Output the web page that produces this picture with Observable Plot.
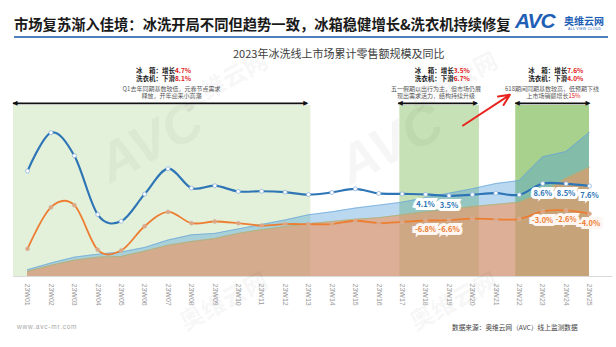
<!DOCTYPE html>
<html>
<head>
<meta charset="utf-8">
<script src="https://cdn.jsdelivr.net/npm/d3@7"></script>
<script src="https://cdn.jsdelivr.net/npm/@observablehq/plot@0.6"></script>
<style>
  html, body { margin: 0; padding: 0; background: #fff; }
  #page { position: relative; width: 616px; height: 347px; overflow: hidden; background: #fff;
          font-family: "Noto Sans CJK SC", "Noto Sans", sans-serif; }
  .abs { position: absolute; white-space: nowrap; }
  #charts svg { position: absolute; left: 0; top: 0; }
  .wm { position: absolute; color: rgba(0,0,0,0.035); font-weight: 900; transform: rotate(-28deg); white-space: nowrap; pointer-events: none; }
</style>
</head>
<body>
<div id="page">
  <div class="abs" style="left:14px; top:13px; font-size:14.3px; font-weight:600; color:#1a1a1a;">市场复苏渐入佳境：冰洗开局不同但趋势一致，冰箱稳健增长&amp;洗衣机持续修复</div>
  <div class="abs" style="left:515px; top:9px; font-family:'Liberation Sans',sans-serif; font-size:21px; font-weight:900; font-style:italic; color:#1f5fb5; letter-spacing:-1px;">AVC</div>
  <div class="abs" style="left:564px; top:13px; font-size:10px; font-weight:700; color:#1f5fb5;">奥维云网</div>
  <div class="abs" style="left:568px; top:27px; font-family:'Liberation Sans',sans-serif; font-size:3.5px; color:#1f5fb5; letter-spacing:0.3px;">ALL VIEW CLOUD</div>
  <div class="abs" style="left:14px; top:36px; width:594px; height:2px; background:#4f7fbf;"></div>
  <div class="abs" style="left:233px; top:45px; font-size:11px; color:#404040;">2023年冰洗线上市场累计零售额规模及同比</div>
  <div id="charts"></div>
  <div class="abs" style="left:17px; top:323px; font-family:'Liberation Sans',sans-serif; font-size:6.5px; color:#a6a6a6; letter-spacing:0.8px;">www.avc-mr.com</div>
  <div class="abs" style="left:452px; top:322px; font-size:6.7px; color:#404040;">数据来源：奥维云网（AVC）线上监测数据</div>
  <div class="wm" style="left:95px; top:110px; font-family:'Liberation Sans'; font-size:54px; font-style:italic;">AVC</div>
  <div class="wm" style="left:175px; top:62px; font-size:24px;">奥维云网</div>
  <div class="wm" style="left:335px; top:112px; font-family:'Liberation Sans'; font-size:54px; font-style:italic;">AVC</div>
  <div class="wm" style="left:405px; top:62px; font-size:24px;">奥维云网</div>
  <div class="wm" style="left:175px; top:282px; font-size:24px;">奥维云网</div>
  <div class="wm" style="left:405px; top:282px; font-size:24px;">奥维云网</div>
</div>
<script>
// ---------- data ----------
const weeks = ["23W01","23W02","23W03","23W04","23W05","23W06","23W07","23W08","23W09","23W10","23W11","23W12","23W13",
               "23W14","23W15","23W16","23W17","23W18","23W19","23W20","23W21","23W22","23W23","23W24","23W25"];
// YoY growth (%) of cumulative online retail sales
const fridgeYoY = [13.8, 29.8, 20.2, -4.3, -7.1, 4.2, 14.8, 6.7, 7.7, 5.3, 5.4, 5.0, 4.0,
                   4.9, 6.4, 4.5, 4.3, 4.1, 3.5, 4.0, 4.6, 3.9, 8.6, 8.5, 7.6];
const washerYoY = [-18.6, -1.3, -0.4, -19.0, -19.3, -9.2, -3.2, -7.9, -7.2, -7.9, -8.9, -8.3, -8.3,
                   -8.3, -6.9, -7.9, -7.4, -6.8, -6.6, -6.0, -6.3, -6.2, -3.0, -2.6, -4.0];
// cumulative retail sales scale (relative units)
const fridgeCum = [9, 18, 26, 30, 33, 39, 49, 56, 58, 64, 70, 76, 83,
                   87, 92, 96, 100, 106, 112, 118, 125, 129, 161, 168, 194];
const washerCum = [7, 15, 22, 26, 27, 34, 42, 47, 51, 58, 63, 67, 71,
                   74, 77, 79, 83, 87, 90, 94, 97, 100, 113, 132, 147];
// labelled weeks (index, 1-based)
const labelWeeks = [18, 19, 23, 24, 25];
// highlighted periods (week index units)
const periodStart = [0.4, 16.9, 21.85];
const periodEnd   = [13.1, 20.3, 25.0];
const arrowStart  = [0.4, 16.85, 21.85];
const arrowEnd    = [12.95, 20.2, 25.0];
const arrowLevel  = 42; // % level of the period arrows
// annotations
const annoAt        = [7.3, 19.2, 24.05];
const fridgeChange  = ["4.7%", "3.5%", "7.6%"];
const washerChange  = ["8.1%", "6.7%", "4.0%"];
const noteAt        = [7.15, 18.45, 23.4];
const noteLine1     = ["Q1去年同期基数较低，元春节点需求", "五一假期以出行为主，但市场仍展", "618期间同期基数较高，低预期下线"];
const noteLine2     = ["释放，开年迎来小高潮", "现出需求活力，结构持续升级", ""];
const note3Line2    = "上市场销额增长";
const note3Red      = "15%";
const note3At       = 24.1;
const redArrow      = [{x1: 19.6, y1: 32.8, x2: 21.6, y2: 45.6}];

// ---------- build ----------
const table = weeks.map((w, i) => ({i: i + 1, w, fy: fridgeYoY[i], wy: washerYoY[i], fc: fridgeCum[i], wc: washerCum[i]}));
const labelRows = table.filter(d => labelWeeks.includes(d.i));
const periods = periodStart.map((s, k) => ({s, e: periodEnd[k], k}));
const spans = arrowStart.map((s, k) => ({s, e: arrowEnd[k]}));
const annos = annoAt.map((x, k) => ({x, f: fridgeChange[k], w: washerChange[k], nx: noteAt[k], n1: noteLine1[k], n2: noteLine2[k]}));
const greens = ["#e3f1da", "#c6e1b5", "#a9d18e"];

const W = 616, H = 347;
const frame = {width: W, height: H, marginTop: 105, marginBottom: 71, marginLeft: 27, marginRight: 27};
const FONT = "'Noto Sans CJK SC', 'Noto Sans', sans-serif";

const areaPlot = Plot.plot({
  ...frame,
  style: {background: "transparent", fontFamily: "'Liberation Sans', sans-serif", fontSize: "7px", color: "#999999", overflow: "visible"},
  x: {domain: [1, 25], ticks: d3.range(1, 26), tickFormat: i => weeks[i - 1], tickRotate: 90, tickSize: 0, tickPadding: 7, label: null},
  y: {domain: [0, 230], axis: null},
  marks: [
    Plot.rect(periods, {x1: "s", x2: "e", fill: d => greens[d.k]}),
    Plot.areaY(table, {x: "i", y: "fc", fill: "#4a9bd8", fillOpacity: 0.38}),
    Plot.lineY(table, {x: "i", y: "fc", stroke: "#6aa6da", strokeWidth: 0.7}),
    Plot.areaY(table, {x: "i", y: "wc", fill: "#f3925a", fillOpacity: 0.6}),
    Plot.lineY(table, {x: "i", y: "wc", stroke: "#9cb87e", strokeWidth: 0.7}),
    Plot.ruleY([0], {x1: 0.4, x2: 26, stroke: "#d9d9d9", strokeWidth: 1})
  ]
});

const linePlot = Plot.plot({
  ...frame,
  style: {background: "transparent", fontFamily: FONT, overflow: "visible"},
  x: {domain: [1, 25], axis: null},
  y: {domain: [-30.125, 41.125], axis: null},
  marks: [
    Plot.lineY(table, {x: "i", y: "wy", stroke: "#ed7d31", strokeWidth: 1.8, curve: "cardinal"}),
    Plot.lineY(table, {x: "i", y: "fy", stroke: "#2e75b6", strokeWidth: 2.2, curve: "cardinal"}),
    Plot.dot(table, {x: "i", y: "wy", r: 2, fill: "#e3a47c", stroke: "#cbb7aa", strokeWidth: 0.6}),
    Plot.dot(table, {x: "i", y: "fy", r: 2, fill: "white", stroke: "#8fb4de", strokeWidth: 0.8}),
    Plot.text(labelRows, {x: "i", y: "fy", dy: 10, text: d => d.fy.toFixed(1) + "%", fill: "#2e75b6", stroke: "white", strokeWidth: 6, strokeLinejoin: "miter", fontWeight: "bold", fontSize: 7.5}),
    Plot.text(labelRows, {x: "i", y: "wy", dy: 9.5, text: d => d.wy.toFixed(1) + "%", fill: "#ed7d31", stroke: "#fdf6f2", strokeWidth: 6, strokeLinejoin: "miter", fontWeight: "bold", fontSize: 7.5}),
    // period arrows
    Plot.ruleY(spans, {y: arrowLevel, x1: "s", x2: "e", stroke: "#111", strokeWidth: 1.6}),
    Plot.text(spans, {x: "s", y: arrowLevel, text: () => "◀", textAnchor: "start", fill: "#111", fontSize: 6.5, fontFamily: "DejaVu Sans", dx: -1}),
    Plot.text(spans, {x: "e", y: arrowLevel, text: () => "▶", textAnchor: "end", fill: "#111", fontSize: 6.5, fontFamily: "DejaVu Sans", dx: 1}),
    // headings
    Plot.text(annos, {x: "x", frameAnchor: "top", dy: -37.5, text: () => "冰　箱：增长", textAnchor: "end", fontWeight: "bold", fontSize: 6.5, fill: "#1a1a1a"}),
    Plot.text(annos, {x: "x", frameAnchor: "top", dy: -37.5, text: "f", textAnchor: "start", fontWeight: "bold", fontSize: 6.5, fill: "#e02020"}),
    Plot.text(annos, {x: "x", frameAnchor: "top", dy: -29, text: () => "洗衣机：下滑", textAnchor: "end", fontWeight: "bold", fontSize: 6.5, fill: "#1a1a1a"}),
    Plot.text(annos, {x: "x", frameAnchor: "top", dy: -29, text: "w", textAnchor: "start", fontWeight: "bold", fontSize: 6.5, fill: "#e02020"}),
    // notes
    Plot.text(annos, {x: "nx", frameAnchor: "top", dy: -19, text: "n1", fontSize: 6, fill: "#595959"}),
    Plot.text(annos, {x: "nx", frameAnchor: "top", dy: -11.5, text: "n2", fontSize: 6, fill: "#595959"}),
    Plot.text([note3At], {x: d => d, frameAnchor: "top", dy: -11.5, text: () => note3Line2, textAnchor: "end", fontSize: 6, fill: "#595959"}),
    Plot.text([note3At], {x: d => d, frameAnchor: "top", dy: -11.5, text: () => note3Red, textAnchor: "start", fontSize: 6, fill: "#e02020"}),
    // red arrow
    Plot.arrow(redArrow, {x1: "x1", y1: "y1", x2: "x2", y2: "y2", stroke: "#e8231f", strokeWidth: 2, headLength: 9, headAngle: 50})
  ]
});

const charts = document.getElementById("charts");
charts.appendChild(areaPlot);
charts.appendChild(linePlot);
</script>
</body>
</html>
